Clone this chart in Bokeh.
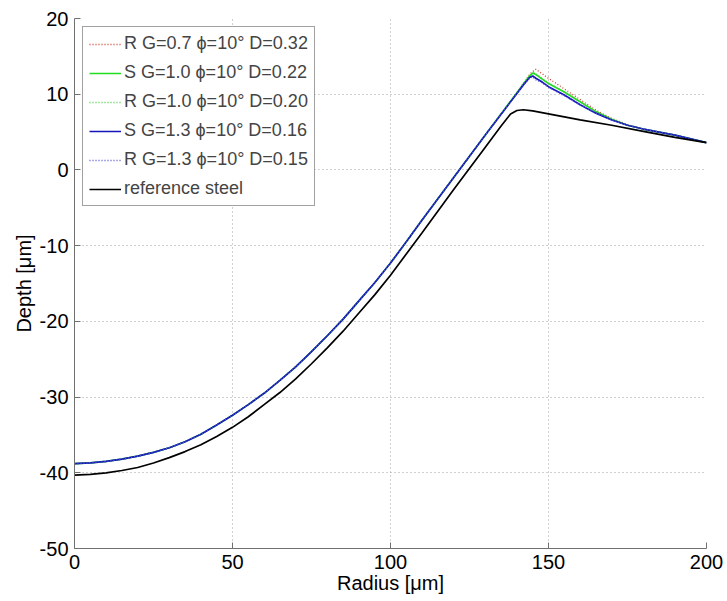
from bokeh.plotting import figure
from bokeh.models import Range1d, FixedTicker, Legend, LegendItem
from bokeh.embed import file_html
from bokeh.resources import INLINE

# ---- data ----
radius = [0, 5, 10, 15, 20, 25, 30, 35, 40, 45, 50, 55, 60, 65, 70, 75, 80, 85, 90, 95, 100, 105, 110,
          120, 130, 140, 142, 144, 145, 146, 148, 150, 155, 160, 165, 170, 175, 180, 185, 190, 195, 200]
r_g07 = [-38.8, -38.7, -38.5, -38.2, -37.8, -37.3, -36.7, -35.9, -34.9, -33.7, -32.4, -31.0, -29.5, -27.8, -26.0,
         -24.0, -21.9, -19.7, -17.3, -14.9, -12.3, -9.5, -6.6, -1.0, 4.6,
         10.2, 11.4, 12.6, 13.0, 13.3, 12.7, 12.1, 10.7, 9.3, 7.9, 6.8, 6.0, 5.4, 5.0, 4.6, 4.1, 3.6]
s_g10 = [-38.8, -38.7, -38.5, -38.2, -37.8, -37.3, -36.7, -35.9, -34.9, -33.7, -32.4, -31.0, -29.5, -27.8, -26.0,
         -24.0, -21.9, -19.7, -17.3, -14.9, -12.3, -9.5, -6.6, -1.0, 4.6,
         10.2, 11.3, 12.4, 12.8, 12.6, 12.0, 11.4, 10.3, 9.0, 7.7, 6.7, 5.9, 5.4, 5.0, 4.6, 4.1, 3.6]
r_g10 = [-38.8, -38.7, -38.5, -38.2, -37.8, -37.3, -36.7, -35.9, -34.9, -33.7, -32.4, -31.0, -29.5, -27.8, -26.0,
         -24.0, -21.9, -19.7, -17.3, -14.9, -12.3, -9.5, -6.6, -1.0, 4.6,
         10.2, 11.3, 12.5, 12.9, 12.7, 12.1, 11.5, 10.3, 9.0, 7.7, 6.7, 5.9, 5.4, 5.0, 4.6, 4.1, 3.6]
s_g13 = [-38.8, -38.7, -38.5, -38.2, -37.8, -37.3, -36.7, -35.9, -34.9, -33.7, -32.4, -31.0, -29.5, -27.8, -26.0,
         -24.0, -21.9, -19.7, -17.3, -14.9, -12.3, -9.5, -6.6, -1.0, 4.6,
         10.1, 11.2, 12.2, 12.4, 12.1, 11.6, 11.0, 9.9, 8.6, 7.5, 6.6, 5.9, 5.4, 5.0, 4.6, 4.1, 3.6]
r_g13 = [-38.8, -38.7, -38.5, -38.2, -37.8, -37.3, -36.7, -35.9, -34.9, -33.7, -32.4, -31.0, -29.5, -27.8, -26.0,
         -24.0, -21.9, -19.7, -17.3, -14.9, -12.3, -9.5, -6.6, -1.0, 4.6,
         10.1, 11.2, 12.1, 12.3, 11.9, 11.5, 10.9, 9.8, 8.6, 7.5, 6.6, 5.9, 5.4, 5.0, 4.6, 4.1, 3.6]

ref_radius = [0, 5, 10, 15, 20, 25, 30, 35, 40, 45, 50, 55, 60, 65, 70, 75, 80, 85, 90, 95, 100, 105, 110,
              120, 130, 135, 138, 140, 142, 145, 150, 160, 170, 180, 190, 200]
ref_steel = [-40.3, -40.2, -40.0, -39.7, -39.3, -38.7, -38.0, -37.2, -36.3, -35.2, -34.0, -32.6, -31.0, -29.4, -27.6,
             -25.6, -23.5, -21.3, -18.9, -16.5, -13.9, -11.1, -8.3,
             -2.6, 3.0, 5.8, 7.4, 7.85, 7.95, 7.8, 7.4, 6.6, 5.9, 5.1, 4.3, 3.6]

x_ticks = [0, 50, 100, 150, 200]
y_ticks = [-50, -40, -30, -20, -10, 0, 10, 20]
y_tick_labels = ["-50", "-40", "-30", "-20", "-10", "0", "10", "20"]

labels = ["R G=0.7 \u03d5=10\u00b0 D=0.32",
          "S G=1.0 \u03d5=10\u00b0 D=0.22",
          "R G=1.0 \u03d5=10\u00b0 D=0.20",
          "S G=1.3 \u03d5=10\u00b0 D=0.16",
          "R G=1.3 \u03d5=10\u00b0 D=0.15",
          "reference steel"]

FONT = "Liberation Sans"

p = figure(width=726, height=600, output_backend="svg", toolbar_location=None,
           x_range=Range1d(0, 200), y_range=Range1d(-50, 20),
           min_border_left=74, min_border_right=20, min_border_top=18, min_border_bottom=52)
p.outline_line_color = None
p.background_fill_color = "white"
p.border_fill_color = "white"

for ax in (p.xaxis[0], p.yaxis[0]):
    ax.major_label_text_font = FONT
    ax.major_label_text_font_size = "20px"
    ax.major_label_text_color = "black"
    ax.axis_label_text_font = FONT
    ax.axis_label_text_font_size = "20px"
    ax.axis_label_text_font_style = "normal"
    ax.axis_label_text_color = "black"
    ax.axis_line_color = "#707070"
    ax.major_tick_line_color = "#707070"
    ax.major_tick_in = 6
    ax.major_tick_out = 0
    ax.minor_tick_line_color = None

p.xaxis.ticker = FixedTicker(ticks=x_ticks)
p.yaxis.ticker = FixedTicker(ticks=y_ticks)
p.yaxis.major_label_overrides = {t: s for t, s in zip(y_ticks, y_tick_labels)}
p.xaxis.axis_label = "Radius [\u03bcm]"
p.yaxis.axis_label = "Depth [\u03bcm]"
p.xaxis.major_label_standoff = 6
p.xaxis.axis_label_standoff = 0
p.yaxis.major_label_standoff = 6
p.yaxis.axis_label_standoff = 2

p.grid.grid_line_color = "#a0a0a0"
p.grid.grid_line_dash = "1 3"
p.grid.grid_line_width = 1

r1 = p.line(radius, r_g07, line_color="#cc4433", line_width=1.3, line_dash="1 2")
r2 = p.line(radius, s_g10, line_color="#22dd22", line_width=1.7)
r3 = p.line(radius, r_g10, line_color="#44cc44", line_width=1.3, line_dash="1 2")
r4 = p.line(radius, s_g13, line_color="#1515bb", line_width=1.7)
r5 = p.line(radius, r_g13, line_color="#5555cc", line_width=1.3, line_dash="1 2")
r6 = p.line(ref_radius, ref_steel, line_color="black", line_width=1.7)

legend = Legend(items=[LegendItem(label=l, renderers=[r]) for l, r in zip(labels, [r1, r2, r3, r4, r5, r6])],
                location="top_left")
legend.margin = 8
legend.padding = 6
legend.spacing = 8
legend.label_height = 20
legend.glyph_height = 20
legend.glyph_width = 32
legend.label_standoff = 3
legend.label_text_font = FONT
legend.label_text_font_size = "18px"
legend.border_line_color = "#444444"
legend.border_line_width = 1
legend.background_fill_alpha = 1
p.add_layout(legend)

open("out.html", "w").write(file_html(p, INLINE))
